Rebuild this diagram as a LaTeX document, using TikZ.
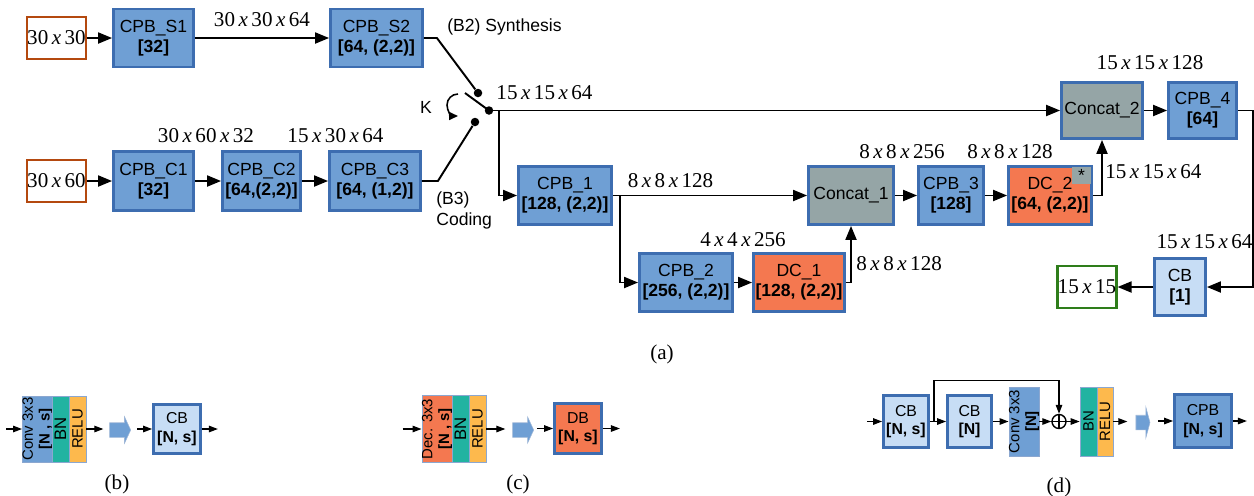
\documentclass[tikz,border=0pt]{standalone}
\usepackage{fontspec}
\setmainfont{Liberation Sans}
\newfontfamily\dimfont{Liberation Serif}
\usetikzlibrary{positioning,arrows.meta,shapes.arrows}

\definecolor{cpbblue}{HTML}{6F9FD4}
\definecolor{edgeblue}{HTML}{3D6DB0}
\definecolor{cblight}{HTML}{C7DDF5}
\definecolor{dcorange}{HTML}{F47850}
\definecolor{catgray}{HTML}{95A5A6}
\definecolor{bnteal}{HTML}{21B3A1}
\definecolor{reluyellow}{HTML}{FDB94D}
\definecolor{inbrown}{HTML}{B4490F}
\definecolor{outgreen}{HTML}{2E7D1A}

\newcommand{\xx}{\,\textit{x}\,}

\tikzset{
  wh/.style 2 args={minimum width=#1*0.02cm, minimum height=#2*0.02cm},
  io/.style={draw=#1, line width=1.2pt, inner sep=0pt, wh={59}{42},
    font=\dimfont\fontsize{12}{14}\selectfont},
  strip/.style={draw=edgeblue!60, line width=0.4pt, fill=#1, inner sep=0pt,
    rotate=90, align=center, font=\fontsize{8.5}{9.5}\selectfont},
  fat/.style 2 args={single arrow, fill=cpbblue, draw=edgeblue!50, line width=0.3pt,
    inner xsep=0pt, inner ysep=0.14cm, single arrow head indent=0pt,
    single arrow head extend=#1, single arrow tip angle=#2},
}

\begin{document}
\begin{tikzpicture}[x=0.02cm, y=-0.02cm,
  blk/.style={draw=edgeblue, line width=1.6pt, inner sep=0pt, align=center,
    font=\fontsize{10}{11.5}\selectfont},
  cpb/.style={blk, fill=cpbblue},
  cb/.style={blk, fill=cblight},
  dc/.style={blk, fill=dcorange},
  cat/.style={blk, fill=catgray},
  small/.style={font=\fontsize{9}{10.5}\selectfont},
  bigbn/.style={font=\fontsize{9.5}{10}\selectfont},
  dim/.style={font=\dimfont\fontsize{12}{14}\selectfont, inner sep=0pt},
  lbl/.style={font=\fontsize{10}{12}\selectfont, inner sep=0pt, align=left},
  dot/.style={circle, fill, inner sep=0pt, minimum size=0.17cm},
  wire/.style={line width=1.1pt},
  link/.style={wire, -{Triangle[length=2.8mm,width=2.2mm]}},
  tiny/.style={line width=0.7pt, -{Triangle[length=1.8mm,width=1.3mm]}}
]
\useasboundingbox (0,0) rectangle (1254,495);

% synthesis branch
\node[io=inbrown] (in1) at (56.5,38) {30\xx30};
\node[cpb, wh={80}{58}] (s1) at (153.5,38) {CPB\_S1\\\textbf{[32]}};
\node[cpb, wh={92}{58}] (s2) at (376.5,38) {CPB\_S2\\\textbf{[64, (2,2)]}};
\draw[link] (in1) -- (s1);
\draw[link] (s1) -- node[dim, above=6pt] {30\xx30\xx64} (s2);
\node[lbl, anchor=west] (syn) at (447,27) {(B2) Synthesis};

% coding branch
\node[io=inbrown] (in2) at (56.5,181) {30\xx60};
\node[cpb, wh={80}{59}] (c1) at (153.5,181) {CPB\_C1\\\textbf{[32]}};
\node[cpb, wh={78}{59}] (c2) at (261.5,181) {CPB\_C2\\\textbf{[64,(2,2)]}};
\node[cpb, wh={91}{59}] (c3) at (375,181) {CPB\_C3\\\textbf{[64, (1,2)]}};
\draw[link] (in2) -- (c1);
\draw[link] (c1) -- (c2);
\draw[link] (c2) -- (c3);
\node[dim] at (206,136) {30\xx60\xx32};
\node[dim] at (335.5,136) {15\xx30\xx64};
\node[lbl, anchor=north west] (cod) at (436,191) {(B3)\\Coding};

% switch K
\node[dot] (top) at (478,93) {};
\node[dot] (bot) at (475,122) {};
\node[dot] (piv) at (489,110.5) {};
\draw[wire] (s2.east) -- ++(13,0) -- (top);
\draw[wire] (c3.east) -- ++(16,0) -- (bot);
\draw[wire] (piv.center) -- ++(-24,-17.5);
\draw[line width=0.9pt, -{Triangle[length=1.8mm,width=1.6mm]}]
  (458,94) arc[start angle=90, end angle=270, radius=0.22cm];
\node[lbl] (k) at (426,107) {K};
\node[dim] at (544.5,93) {15\xx15\xx64};

% u-net part
\node[cpb, wh={93}{58}] (p1) at (565,195.5) {CPB\_1\\\textbf{[128, (2,2)]}};
\node[cpb, wh={93}{58}] (p2) at (686,282.5) {CPB\_2\\\textbf{[256, (2,2)]}};
\node[dc, wh={91}{58}] (d1) at (799,282.5) {DC\_1\\\textbf{[128, (2,2)]}};
\node[cat, wh={85}{58}] (cat1) at (851,195.5) {Concat\_1};
\node[cpb, wh={65}{58}] (p3) at (951,195.5) {CPB\_3\\\textbf{[128]}};
\node[dc, wh={83}{58}] (d2) at (1050,195.5) {DC\_2\\\textbf{[64, (2,2)]}};
\node[fill=catgray, inner sep=0pt, wh={19}{17}, anchor=north east,
  font=\fontsize{10}{10}\selectfont] (star) at ([shift={(-1.4,1.4)}]d2.north east) {*};
\node[cat, wh={81}{56}] (cat2) at (1102,110.5) {Concat\_2};
\node[cpb, wh={68}{56}] (p4) at (1202.5,110.5) {CPB\_4\\\textbf{[64]}};
\node[cb, wh={51}{57}] (cb) at (1180,287) {CB\\\textbf{[1]}};
\node[io=outgreen] (out) at (1087,287) {15\xx15};

\draw[link] (piv.center) -- (cat2.west);
\draw[link] (piv.center) ++(10,0) |- (p1.west);
\draw[link] (p1) -- (cat1);
\draw[link] (p1.east) ++(7,0) |- (p2.west);
\draw[link] (p2) -- (d1);
\draw[link] (d1.east) -| (cat1.south);
\draw[link] (cat1) -- (p3);
\draw[link] (p3) -- (d2);
\draw[link] (d2.east) -| (cat2.south);
\draw[link] (cat2) -- (p4);
\draw[link] (p4.east) -- ++(15,0) |- (cb.east);
\draw[link] (cb) -- (out);

\node[dim] at (670.5,181) {8\xx8\xx128};
\node[dim] at (743,240) {4\xx4\xx256};
\node[dim] at (902,152) {8\xx8\xx256};
\node[dim] at (1010,152) {8\xx8\xx128};
\node[dim] at (1150,63) {15\xx15\xx128};
\node[dim, anchor=west] at (1105,172) {15\xx15\xx64};
\node[dim, anchor=west] at (856,264) {8\xx8\xx128};
\node[dim] at (1204.5,242) {15\xx15\xx64};
\node[dim] (capa) at (662,354) {(a)};

% (b) conv block -- rotated strips: north is left, south is right
\node[strip=cpbblue, wh={66}{29}] (conv) at (37.5,429) {Conv 3x3\\\textbf{[N , s]}};
\node[strip=bnteal, bigbn, wh={66}{17}] (bn) at (60.5,429) {BN};
\node[strip=reluyellow, wh={66}{17}] (relu) at (77.5,429) {RELU};
\node[fat={0.12cm}{130}, minimum height=0.42cm] (fb) at (118.5,430) {};
\node[cb, small, wh={47}{49}] (cbb) at (177,429) {CB\\\textbf{[N, s]}};
\draw[tiny] (conv.north) ++(-16,0) -- (conv.north);
\draw[tiny] (relu.south) -- ++(17,0);
\draw[tiny] (cbb.west) ++(-15,0) -- (cbb.west);
\draw[tiny] (cbb.east) -- ++(16,0);
\node[dim] (capb) at (117,484) {(b)};

% (c) deconv block
\node[strip=dcorange, wh={67}{30}] (dec) at (437,429) {Dec. 3x3\\\textbf{[N , s]}};
\node[strip=bnteal, bigbn, wh={67}{17}] (bnc) at (460.5,429) {BN};
\node[strip=reluyellow, wh={67}{17}] (reluc) at (477.5,429) {RELU};
\node[fat={0.12cm}{130}, minimum height=0.42cm] (fc) at (521.5,430) {};
\node[dc, small, wh={47}{50}] (db) at (578,428.5) {DB\\\textbf{[N, s]}};
\draw[tiny] (dec.north) ++(-19,0) -- (dec.north);
\draw[tiny] (reluc.south) -- ++(19,0);
\draw[tiny] (db.west) ++(-16,0) -- (db.west);
\draw[tiny] (db.east) -- ++(17,0);
\node[dim] (capc) at (518,484) {(c)};

% (d) residual block
\node[cb, small, wh={45}{52}] (cba) at (906,421.5) {CB\\\textbf{[N, s]}};
\node[cb, small, wh={44}{52}] (cbn) at (969.5,421.5) {CB\\\textbf{[N]}};
\node[strip=cpbblue, wh={69}{30}] (conv2) at (1024,421.5) {Conv 3x3\\\textbf{[N]}};
\node[draw, circle, line width=0.8pt, inner sep=0pt, minimum size=14*0.02cm] (add) at (1059,421.5) {};
\draw[line width=0.8pt] (add.north) -- (add.south) (add.west) -- (add.east);
\node[strip=bnteal, wh={69}{17}] (bnd) at (1088.5,421.5) {BN};
\node[strip=reluyellow, wh={69}{16}] (relud) at (1105,421.5) {RELU};
\node[fat={0.16cm}{150}, minimum height=0.28cm] (fd) at (1142,422.5) {};
\node[cpb, small, wh={57}{53}] (cpbd) at (1203,421) {CPB\\\textbf{[N, s]}};
\draw[tiny] (cba.west) ++(-15,0) -- (cba.west);
\draw[tiny] (cba) -- (cbn);
\draw[tiny] (cba.east) ++(4,0) -- ++(0,-41) -| (add.north);
\draw[tiny] (cbn.east) -- (conv2.north);
\draw[tiny] (conv2.south) -- (add.west);
\draw[tiny] (add.east) -- (bnd.north);
\draw[tiny] (relud.south) -- ++(14,0);
\draw[tiny] (cpbd.west) ++(-15,0) -- (cpbd.west);
\draw[tiny] (cpbd.east) -- ++(14,0);
\node[dim] (capd) at (1059,487) {(d)};
\end{tikzpicture}
\end{document}
